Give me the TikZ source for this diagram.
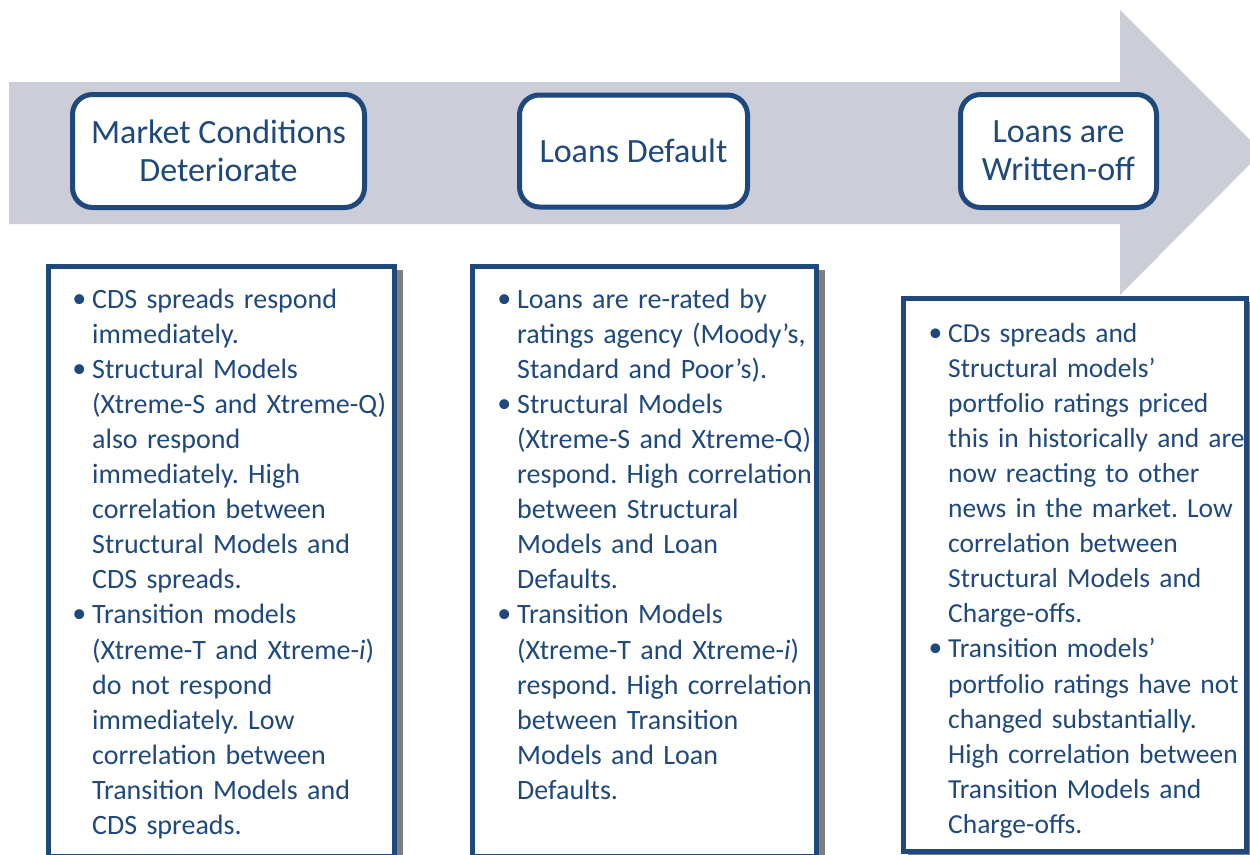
\documentclass[tikz,border=0pt]{standalone}
\usepackage{fontspec}
\setmainfont{Carlito}
\definecolor{arrowgrey}{HTML}{CBCED8}
\definecolor{navy}{HTML}{1F497D}
\definecolor{shadowgrey}{HTML}{7F7F7F}
\newcommand{\bul}{\leavevmode\llap{\raisebox{1pt}{•}\hspace{6pt}}}
\tikzset{
  headbox/.style={draw=navy, line width=5pt, fill=white, rounded corners=20pt, text=navy,
    font=\fontsize{34}{38}\selectfont, align=center, inner sep=0pt, outer sep=0pt},
  infobox/.style={draw=navy, line width=5pt, fill=white, outer sep=0pt, inner sep=0pt, anchor=north west},
  shadowbox/.style={fill=shadowgrey},
  bodytext/.style={anchor=base west, inner sep=0pt, text=navy, align=left,
    font=\fontsize{28}{35.1}\selectfont\frenchspacing}
}
\begin{document}
\begin{tikzpicture}[x=1pt,y=-1pt]
\useasboundingbox (0,0) rectangle (1250,854);
% big arrow
\fill[arrowgrey] (9,82) -- (1120,82) -- (1120,10) -- (1262,152) -- (1120,295) -- (1120,224) -- (9,224) -- cycle;
% heading boxes
\node[headbox, minimum width=292pt, minimum height=113pt] (h1) at (218.5,151) {Market Conditions\\Deteriorate};
\node[headbox, minimum width=228pt, minimum height=112pt] (h2) at (633.5,151) {Loans Default};
\node[headbox, minimum width=196pt, minimum height=113pt] (h3) at (1058.5,151) {Loans are\\Written-off};
% info boxes with shadows
\fill[shadowbox] (52,270) rectangle (403,860);
\node[infobox, minimum width=346pt, minimum height=590pt] (b1) at (48.5,266.5) {};
\fill[shadowbox] (476,270) rectangle (825,860);
\node[infobox, minimum width=344pt, minimum height=590pt] (b2) at (472.5,266.5) {};
\fill[shadowbox] (908,302) rectangle (1256,860);
\node[infobox, minimum width=343pt, minimum height=553pt] (b3) at (903.5,298.5) {};
% texts
\node[bodytext, text width=330pt] (t1) at (92,308) {%
\bul CDS spreads respond\\
immediately.\\
\bul Structural Models\\
(Xtreme-S and Xtreme-Q)\\
also respond\\
immediately. High\\
correlation between\\
Structural Models and\\
CDS spreads.\\
\bul Transition models\\
(Xtreme-T and Xtreme-\textit{i})\\
do not respond\\
immediately. Low\\
correlation between\\
Transition Models and\\
CDS spreads.};
\node[bodytext, text width=330pt] (t2) at (517,308) {%
\bul Loans are re-rated by\\
ratings agency (Moody’s,\\
Standard and Poor’s).\\
\bul Structural Models\\
(Xtreme-S and Xtreme-Q)\\
respond. High correlation\\
between Structural\\
Models and Loan\\
Defaults.\\
\bul Transition Models\\
(Xtreme-T and Xtreme-\textit{i})\\
respond. High correlation\\
between Transition\\
Models and Loan\\
Defaults.};
\node[bodytext, text width=330pt, font=\fontsize{27.5}{35.1}\selectfont\frenchspacing] (t3) at (948,342) {%
\bul CDs spreads and\\
Structural models’\\
portfolio ratings priced\\
this in historically and are\\
now reacting to other\\
news in the market. Low\\
correlation between\\
Structural Models and\\
Charge-offs.\\
\bul Transition models’\\
portfolio ratings have not\\
changed substantially.\\
High correlation between\\
Transition Models and\\
Charge-offs.};
\end{tikzpicture}
\end{document}
